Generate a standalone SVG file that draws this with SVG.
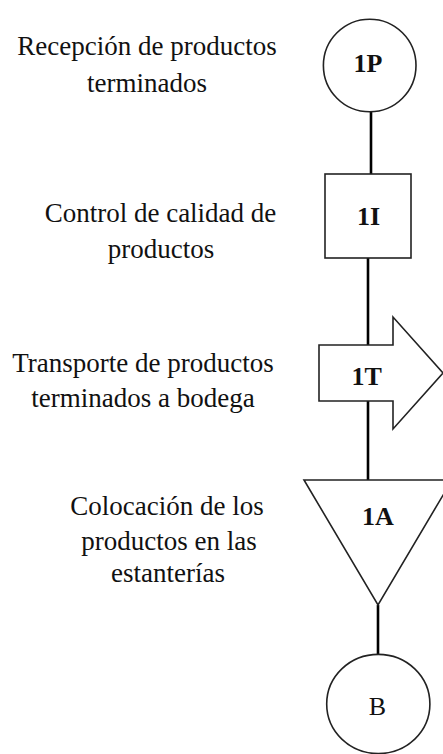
<svg xmlns="http://www.w3.org/2000/svg" width="443" height="754" viewBox="0 0 443 754">
<style>
.shape{fill:#fff;stroke:#222;stroke-width:1.6}
.conn{stroke:#000;stroke-width:2.6;fill:none}
.desc{font-family:"Liberation Serif","Times New Roman",serif;font-size:27px;fill:#111;text-anchor:middle}
.lbl{font-family:"Liberation Serif","Times New Roman",serif;font-size:26px;font-weight:bold;fill:#111;text-anchor:middle}
.lblr{font-family:"Liberation Serif","Times New Roman",serif;font-size:26px;fill:#111;text-anchor:middle}
</style>
<rect width="443" height="754" fill="#fff"/>
<g id="connectors">
<line class="conn" x1="371" y1="112" x2="371" y2="174"/>
<line class="conn" x1="368" y1="258" x2="368" y2="345"/>
<line class="conn" x1="368" y1="401" x2="368" y2="480"/>
<line class="conn" x1="378" y1="605" x2="378" y2="654"/>
</g>
<g id="node-1P">
<ellipse class="shape" cx="369.7" cy="65.5" rx="46.3" ry="46.3"/>
<text class="lbl" x="368" y="72">1P</text>
<text class="desc" x="147" y="55">Recepción de productos</text>
<text class="desc" x="147" y="92">terminados</text>
</g>
<g id="node-1I">
<rect class="shape" x="325" y="174" width="86" height="84"/>
<text class="lbl" x="368.5" y="225">1I</text>
<text class="desc" x="160.5" y="222">Control de calidad de</text>
<text class="desc" x="161" y="258">productos</text>
</g>
<g id="node-1T">
<polygon class="shape" points="319,345 393,345 393,317 443,373 393,429 393,401 319,401"/>
<text class="lbl" x="366.7" y="385">1T</text>
<text class="desc" x="143" y="372">Transporte de productos</text>
<text class="desc" x="143" y="407">terminados a bodega</text>
</g>
<g id="node-1A">
<polygon class="shape" points="304,480 452,480 378,605"/>
<text class="lbl" x="378" y="525">1A</text>
<text class="desc" x="167" y="515">Colocación de los</text>
<text class="desc" x="169" y="550">productos en las</text>
<text class="desc" x="168" y="582">estanterías</text>
</g>
<g id="node-B">
<ellipse class="shape" cx="378.3" cy="704" rx="51.6" ry="49.6"/>
<text class="lblr" x="377.5" y="715">B</text>
</g>
</svg>
